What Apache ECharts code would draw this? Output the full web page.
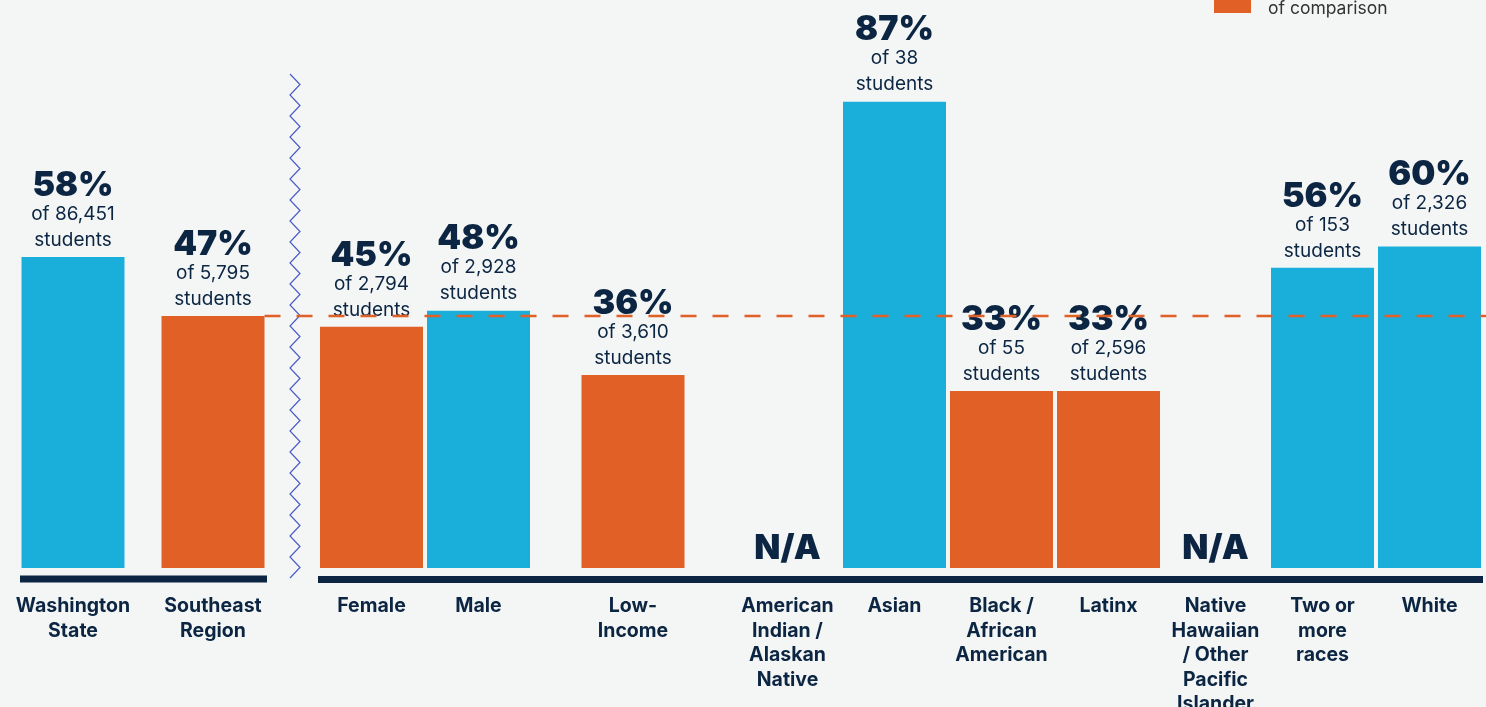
<!DOCTYPE html>
<html>
<head>
<meta charset="utf-8">
<script src="https://cdn.jsdelivr.net/npm/echarts@6/dist/echarts.min.js"></script>
<style>
  html, body { margin: 0; padding: 0; background: #f4f6f5; }
  #main { width: 1486px; height: 707px; }
</style>
</head>
<body>
<div id="main"></div>
<script>
// reference bars (state + region)
const refCategories = ['Washington\nState', 'Southeast\nRegion']
const refValues = [58, 47]
const refCounts = ['86,451', '5,795']

// gender
const genderCategories = ['Female', 'Male']
const genderValues = [45, 48]
const genderCounts = ['2,794', '2,928']

// income
const incomeCategories = ['Low-\nIncome']
const incomeValues = [36]
const incomeCounts = ['3,610']

// race / ethnicity (null = N/A)
const raceCategories = [
  'American\nIndian /\nAlaskan\nNative',
  'Asian',
  'Black /\nAfrican\nAmerican',
  'Latinx',
  'Native\nHawaiian\n/ Other\nPacific\nIslander',
  'Two or\nmore\nraces',
  'White',
]
const raceValues = [null, 87, 33, 33, null, 56, 60]
const raceCounts = ['', '38', '55', '2,596', '', '153', '2,326']

const regionValue = 47 // point of comparison

const BLUE = '#1aafda'
const ORANGE = '#e06026'
const NAVY = '#0b2542'
const FONT = 'Inter, "Noto Sans", sans-serif'

const chart = echarts.init(document.getElementById('main'))

function buildData(values, counts, colors) {
  return values.map((v, i) => {
    if (v === null) {
      return { value: 0, na: true, itemStyle: { color: 'transparent' } }
    }
    return { value: v, count: counts[i], itemStyle: { color: colors[i] } }
  })
}

const labelCfg = {
  show: true,
  position: 'top',
  distance: 4,
  align: 'center',
  formatter: (p) => {
    if (p.data.na) return '{p|N/A}'
    return `{p|${p.value}%}\n{s|of ${p.data.count}}\n{s|students}`
  },
  rich: {
    p: { fontFamily: FONT, fontSize: 34, fontWeight: 900, color: NAVY, lineHeight: 31, align: 'center' },
    s: { fontFamily: FONT, fontSize: 19, fontWeight: 400, color: NAVY, lineHeight: 26, align: 'center' },
  },
}

const gridTop = 32
const gridBottom = 139
const grids = [
  { left: 3, width: 280 },
  { left: 318, width: 214 },
  { left: 532, width: 202 },
  { left: 734, width: 749 },
].map((g) => ({ ...g, top: gridTop, bottom: gridBottom, containLabel: false, outerBoundsMode: 'none' }))
const catLists = [refCategories, genderCategories, incomeCategories, raceCategories]

const xAxes = catLists.map((cats, i) => ({
  type: 'category',
  gridIndex: i,
  data: cats,
  offset: 11,
  axisLine: { show: i > 0, onZero: false, lineStyle: { color: NAVY, width: 7, cap: 'butt' } },
  axisTick: { show: false },
  axisLabel: {
    interval: 0,
    margin: 15,
    fontFamily: FONT,
    fontSize: 19.5,
    fontWeight: 700,
    color: NAVY,
    lineHeight: 24.5,
    verticalAlign: 'top',
  },
}))
const yAxes = grids.map((g, i) => ({
  type: 'value',
  gridIndex: i,
  min: 0,
  max: 100,
  show: false,
}))

const seriesData = [
  buildData(refValues, refCounts, [BLUE, ORANGE]),
  buildData(genderValues, genderCounts, [ORANGE, BLUE]),
  buildData(incomeValues, incomeCounts, [ORANGE]),
  buildData(raceValues, raceCounts, [BLUE, BLUE, ORANGE, ORANGE, BLUE, BLUE, BLUE]),
]

// zigzag separator
const zig = []
for (let y = 74, k = 0; y <= 580; y += 10.5, k++) {
  zig.push([k % 2 ? 300 : 290, y])
}

chart.setOption({
  backgroundColor: '#f4f6f5',
  animation: false,
  grid: grids,
  xAxis: xAxes,
  yAxis: yAxes,
  series: seriesData.map((d, i) => ({
    type: 'bar',
    xAxisIndex: i,
    yAxisIndex: i,
    barWidth: 103,
    data: d,
    label: labelCfg,
    z: 2,
  })),
  graphic: [
    {
      id: 'zig',
      type: 'polyline',
      shape: { points: zig },
      style: { stroke: '#4b5cc6', lineWidth: 1.2, fill: null },
    },
    {
      id: 'legendBox',
      type: 'rect',
      shape: { x: 1214, y: -5, width: 37, height: 18 },
      style: { fill: ORANGE },
    },
    {
      id: 'legendText',
      type: 'text',
      x: 1268,
      y: 9,
      style: {
        text: 'of comparison',
        font: '400 17.5px ' + FONT,
        fill: '#333',
        verticalAlign: 'middle',
      },
    },
  ],
})

// baseline under the left pair and the regional comparison line
const leftA = chart.convertToPixel({ xAxisIndex: 0 }, refCategories[0])
const leftB = chart.convertToPixel({ xAxisIndex: 0 }, refCategories[1])
const baseY = chart.convertToPixel({ yAxisIndex: 0 }, 0)
const refY = chart.convertToPixel({ yAxisIndex: 0 }, regionValue)

chart.setOption({
  graphic: [
    {
      id: 'leftBase',
      type: 'rect',
      shape: { x: leftA - 53, y: baseY + 7.5, width: leftB - leftA + 107, height: 7 },
      style: { fill: NAVY },
    },
    {
      id: 'refLine',
      type: 'line',
      z: 10,
      shape: { x1: leftB + 51.5, y1: refY, x2: chart.getWidth(), y2: refY },
      style: { stroke: ORANGE, lineWidth: 2.5, lineDash: [16, 16] },
    },
  ],
})
</script>
</body>
</html>
